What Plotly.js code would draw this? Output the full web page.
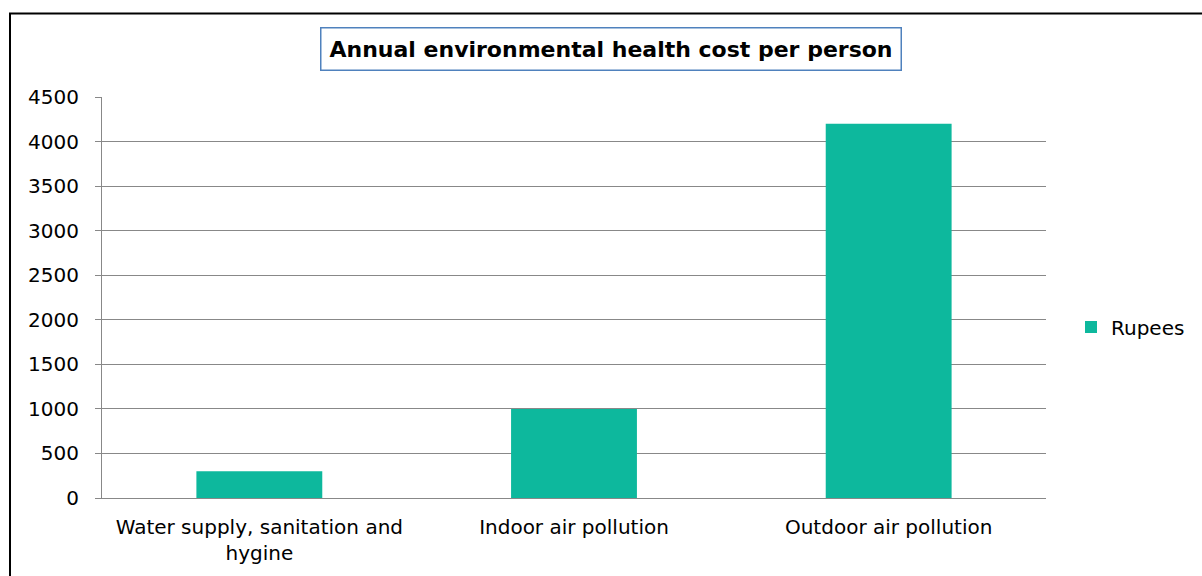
<!DOCTYPE html>
<html><head><meta charset="utf-8">
<script src="https://cdn.plot.ly/plotly-3.0.1.min.js"></script>
<style>html,body{margin:0;padding:0;background:#fff}#chart{width:1202px;height:576px}</style>
</head><body><div id="chart"></div>
<script>
const categories = ["Water supply, sanitation and<br>hygine", "Indoor air pollution", "Outdoor air pollution"];
const rupees = [300, 1000, 4200];
const seriesName = "Rupees";
const titleText = "<b>Annual environmental health cost per person</b>";
const yTicks = [0, 500, 1000, 1500, 2000, 2500, 3000, 3500, 4000, 4500];

const L = 102, R = 156, T = 97, B = 78, W = 1202, H = 576;
const pw = W - L - R, ph = H - T - B;
const px = x => (x - L) / pw;
const py = y => (H - B - y) / ph;
const FONT = 'DejaVu Sans, Arial, sans-serif';

const data = [{
  type: 'bar', x: categories, y: rupees, name: seriesName,
  marker: {color: '#0DB89D'}, showlegend: true
}];

const layout = {
  width: W, height: H,
  margin: {l: L, r: R, t: T, b: B, pad: 0},
  paper_bgcolor: '#fff', plot_bgcolor: '#fff',
  font: {family: FONT, size: 20, color: '#000'},
  bargap: 0.6,
  showlegend: true,
  legend: {x: px(1071), y: py(327), xanchor: 'left', yanchor: 'middle',
    font: {size: 20, color: '#000', family: FONT}, itemwidth: 30, bgcolor: 'rgba(0,0,0,0)'},
  xaxis: {type: 'category', showgrid: false, showline: true, linecolor: '#888', linewidth: 1,
    ticks: '', ticklabelstandoff: 11, tickfont: {size: 20, color: '#000', family: FONT}},
  yaxis: {range: [0, 4500], tickvals: yTicks, ticktext: yTicks.map(String),
    showgrid: true, gridcolor: '#888', gridwidth: 1, zeroline: false,
    showline: true, linecolor: '#888', linewidth: 1,
    ticks: 'outside', ticklen: 6, tickcolor: '#888', ticklabelstandoff: 12,
    tickfont: {size: 20, color: '#000', family: FONT}},
  annotations: [{
    text: titleText, xref: 'paper', yref: 'paper', x: px(610.5), y: py(49),
    xanchor: 'center', yanchor: 'middle', showarrow: false,
    font: {size: 22, color: '#000', family: FONT},
    bordercolor: '#4F81BD', borderwidth: 1.5, borderpad: 8, bgcolor: '#fff'
  }],
  shapes: [
    {type: 'line', xref: 'paper', yref: 'paper', x0: px(10), x1: px(10), y0: py(580), y1: py(13.5),
      line: {color: '#000', width: 2}},
    {type: 'line', xref: 'paper', yref: 'paper', x0: px(9), x1: px(1205), y0: py(13.5), y1: py(13.5),
      line: {color: '#000', width: 2}}
  ]
};
Plotly.newPlot('chart', data, layout, {displayModeBar: false, staticPlot: true});
</script></body></html>
